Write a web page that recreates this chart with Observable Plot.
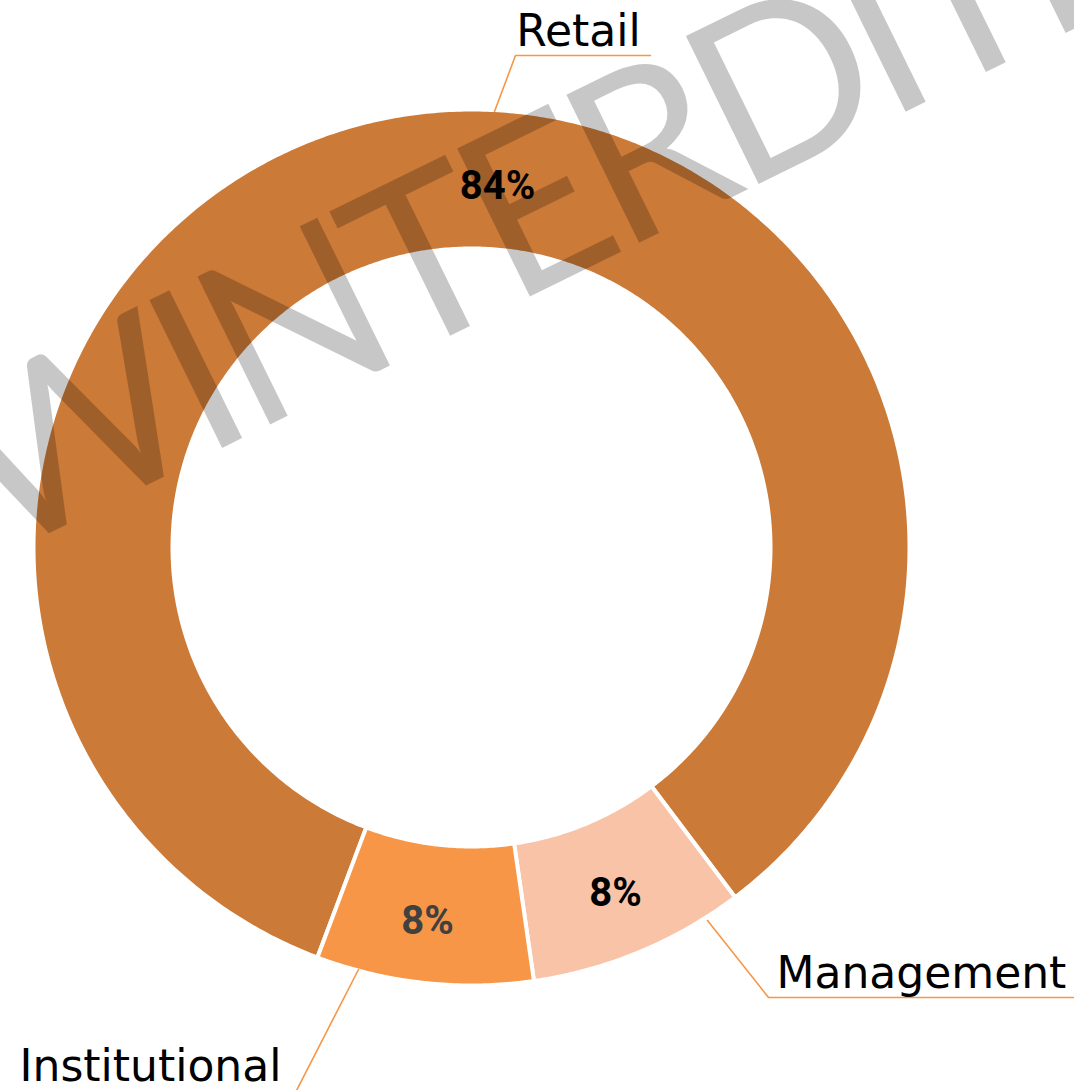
<!DOCTYPE html>
<html><head><meta charset="utf-8">
<script src="https://cdn.jsdelivr.net/npm/d3@7"></script>
<script src="https://cdn.jsdelivr.net/npm/@observablehq/plot@0.6"></script>
<style>html,body{margin:0;padding:0;background:#fff}#chart svg{display:block}</style>
</head><body><div id="chart"></div>
<script>
// ---- data ----
const categories = ["Retail", "Management", "Institutional"];
const shares = [84, 8, 8];
const valueLabels = ["84%", "8%", "8%"];
const sliceColors = ["#CC7A38", "#F9C3A7", "#F79646"];
const watermarkText = "WINTERDITE";

// ---- layout ----
const W = 1074, H = 1090;
const cx = 471, cy = 547, rOuter = 438, rInner = 299;
const startDeg = 200.6;
const rad = d => d * Math.PI / 180;
const layout = {
  Retail:        {pct: [497, 198], pctFill: "#000", name: [578, 45], anchor: "middle", leader: [[494, 111], [515, 55], [650, 55]]},
  Management:    {pct: [615, 905], pctFill: "#000", name: [776, 987], anchor: "start", leader: [[707, 920], [768, 997], [1074, 997]]},
  Institutional: {pct: [427, 933], pctFill: "#404040", name: [150, 1080], anchor: "middle", leader: [[358, 969], [295, 1092]]}
};
const watermark = {x: -1, y: 557, rotate: -26.2, size: 230, spacing: -11};

const data = categories.map((c, i) => ({category: c, value: shares[i], label: valueLabels[i]}));
const arcs = d3.pie().sort(null).value(d => d.value)
  .startAngle(rad(startDeg)).endAngle(rad(startDeg) + 2 * Math.PI)(data);

const pt = (a, r) => [cx + r * Math.sin(a), cy - r * Math.cos(a)];
const slicePts = [];
for (const a of arcs) {
  const n = Math.max(4, Math.ceil((a.endAngle - a.startAngle) / rad(0.5)));
  const ring = [];
  for (let k = 0; k <= n; k++) ring.push(pt(a.startAngle + (a.endAngle - a.startAngle) * k / n, rOuter));
  for (let k = n; k >= 0; k--) ring.push(pt(a.startAngle + (a.endAngle - a.startAngle) * k / n, rInner));
  ring.forEach(([x, y]) => slicePts.push({category: a.data.category, x, y}));
}

const leaderPts = [];
for (const c of categories) layout[c].leader.forEach(([x, y]) => leaderPts.push({category: c, x, y}));
const pctRows = data.map(d => ({...d, x: layout[d.category].pct[0], y: layout[d.category].pct[1], fill: layout[d.category].pctFill}));
const nameRows = data.map(d => ({...d, x: layout[d.category].name[0], y: layout[d.category].name[1], anchor: layout[d.category].anchor}));

const chart = Plot.plot({
  width: W, height: H,
  margin: 0,
  x: {domain: [0, W], range: [0, W], axis: null},
  y: {domain: [0, H], range: [0, H], axis: null},
  color: {domain: categories, range: sliceColors},
  style: {background: "#fff"},
  marks: [
    Plot.line(slicePts, {x: "x", y: "y", z: "category", fill: "category", stroke: "#fff", strokeWidth: 4, curve: "linear-closed"}),
    Plot.line(leaderPts, {x: "x", y: "y", z: "category", stroke: "#F79646", strokeWidth: 1.6}),
    Plot.text(pctRows.filter(d => d.fill === "#000"), {x: "x", y: "y", text: "label", fill: "#000", fontSize: 40, fontWeight: "bold", fontFamily: "Roboto", lineAnchor: "bottom"}),
    Plot.text(pctRows.filter(d => d.fill !== "#000"), {x: "x", y: "y", text: "label", fill: "#404040", fontSize: 40, fontWeight: "bold", fontFamily: "Roboto", lineAnchor: "bottom"}),
    Plot.text(nameRows.filter(d => d.anchor === "middle"), {x: "x", y: "y", text: "category", fill: "#000", fontSize: 44, fontFamily: "DejaVu Sans", lineAnchor: "bottom", textAnchor: "middle"}),
    Plot.text(nameRows.filter(d => d.anchor === "start"), {x: "x", y: "y", text: "category", fill: "#000", fontSize: 44, fontFamily: "DejaVu Sans", lineAnchor: "bottom", textAnchor: "start"}),
    Plot.text([watermarkText], {x: () => watermark.x, y: () => watermark.y, text: d => d, rotate: watermark.rotate, fontSize: watermark.size, fontFamily: "Lato", fill: "#000", fillOpacity: 0.22, textAnchor: "start", lineAnchor: "bottom"})
  ]
});
chart.querySelectorAll("text").forEach(t => {
  if (t.textContent === watermarkText) t.style.letterSpacing = watermark.spacing + "px";
});
document.getElementById("chart").appendChild(chart);
</script></body></html>
